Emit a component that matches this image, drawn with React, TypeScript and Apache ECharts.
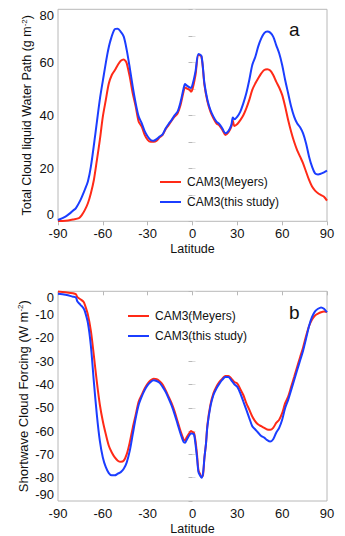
import React, { useEffect, useRef } from "react";
import * as echarts from "echarts";

// Panel a: Total cloud liquid water path (g m-2)
const latA_meyers = [-90,-85,-80,-76,-74,-72,-70,-68,-66,-64,-62,-60,-58,-56,-54,-52,-50,-48,-46,-45,-44,-42,-40,-38,-36,-34,-32,-30,-28,-26,-24,-22,-20,-18,-16,-14,-12,-10,-8,-6,-5,-4,-2,-1,0,2,4,6,8,10,12,14,16,18,20,22,24,26,27,28,30,32,34,36,38,40,42,44,46,48,50,52,54,56,58,60,62,64,66,68,70,72,74,76,78,80,82,84,86,88,90];
const lwpMeyers = [0.1,0.2,0.7,1.2,2.4,4.3,6.8,10.6,15.6,23,30.7,39.5,45.8,52,55.2,57,59,60.6,61.1,60.6,59.6,54.6,48.3,43.3,37.6,35.7,32.6,30.7,30,30,30.4,31.7,32.6,34.7,36.3,38,39.5,40.7,43.9,48.9,50.5,50.2,49.6,48.9,49.8,55.2,62.8,62.1,51.4,45.2,41.4,38.9,37,36.1,34.5,32.6,33.5,35.7,38,36,36.7,38.2,40,42.6,45.8,49.6,52,54,55.8,57.1,57.4,56.9,55.2,52.7,50.5,47.7,43.3,38.2,33.8,30,26.9,24.4,21.9,18.7,15.6,13.1,11.6,10.6,9.9,9.3,7.8];
const latA_study = [-90,-85,-82,-80,-78,-75,-72,-70,-68,-65,-62,-60,-57,-55,-52,-50,-48,-46,-44,-42,-40,-38,-36,-34,-32,-30,-28,-26,-24,-22,-20,-18,-16,-14,-12,-10,-8,-6,-5,-4,-2,-1,0,2,4,6,8,10,12,14,16,18,20,22,24,26,27,28,30,32,34,36,38,40,42,44,46,48,50,52,54,56,58,60,62,64,66,68,70,72,74,76,78,80,82,84,86,88,90];
const lwpStudy = [0.5,1.8,3,4,5,8,12,15,20.6,33,46,53,63,68,72.5,72.7,71.5,69.7,64.6,58,50.8,44.5,39.5,37,34,32,30.7,30.4,31,32,32.8,35,36.7,38.2,40,41.4,45,50,51.8,51.3,50.5,50.3,51.5,56.5,63.1,62.4,52,45.8,42,39.5,37.6,36.7,35,33.2,34,36.4,39.2,38.5,39.5,41.4,44.5,48.3,53.3,59,62,66,69,71,71.6,71.2,69.7,66.5,63.4,59,53.3,48.3,43.3,39.5,37,35.5,33.2,29.4,24.4,20.6,18.1,17.7,18,18.5,19.1];

// Panel b: Shortwave cloud forcing (W m-2)
const latB = [-90,-85,-80,-78,-77,-75,-73,-72,-70,-68,-66,-64,-62,-60,-58,-56,-54,-52,-50,-48,-46,-44,-42,-40,-38,-36,-34,-32,-30,-28,-26,-24,-22,-20,-18,-16,-14,-12,-10,-8,-6,-5,-4,-2,-1,0,1,2,3,4,5,6,7,8,9,10,12,14,16,18,20,22,24,26,28,30,32,34,36,38,40,42,44,46,48,50,52,54,56,58,60,62,64,66,68,70,72,74,76,78,80,82,84,86,88,90];
const swcfMeyers = [-0.1,-0.4,-0.8,-1.3,-2.5,-3.4,-4.4,-5.8,-10,-17,-27.6,-38.9,-48.7,-55.8,-61.4,-66.3,-69.2,-71.3,-72.7,-73.2,-72.7,-69.9,-64.9,-58.6,-53,-47.3,-44.5,-41.7,-39.6,-38.2,-37.5,-37.7,-38.6,-40,-42.4,-45.2,-48,-51.5,-55.8,-60,-63.5,-64,-62.8,-60.7,-60,-60.4,-60.7,-64.2,-69.9,-76.9,-78.3,-79.7,-79,-71.3,-65.6,-57.2,-48.7,-43.8,-41,-38.9,-37.5,-36.3,-36.3,-37.5,-38.9,-39.6,-42,-44.5,-48,-50.8,-53.7,-55.8,-57.2,-57.9,-58.6,-59.3,-59.4,-58.6,-56.5,-55.1,-52.3,-48,-45.2,-41,-36.8,-32.5,-28.3,-24.1,-19.2,-14.9,-12.1,-10.4,-9.6,-9,-8.7,-8.9];
const swcfStudy = [-1.1,-1.5,-2.3,-2.7,-4.4,-5.8,-7.2,-8.6,-13.5,-23.4,-38.9,-53,-64.2,-71.3,-75.5,-78,-79,-79,-78.3,-77.6,-76.2,-73.4,-68.5,-61.4,-54.4,-48.7,-45.2,-42.4,-40.3,-38.9,-38.2,-38.5,-39.3,-41,-43.1,-45.9,-49,-52.7,-56.9,-61.1,-64.6,-65,-63.9,-61.7,-61,-61.1,-61.4,-65.6,-71.3,-77.6,-79,-80,-78.3,-71.3,-65.6,-57.9,-49.4,-44.5,-41.7,-39.6,-37.9,-36.8,-36.8,-38.2,-39.9,-41,-43.8,-47.3,-50.8,-54.4,-57.9,-59.3,-60.7,-62.1,-62.8,-63.9,-64.5,-63.5,-60.7,-58.6,-55.1,-50.1,-46.6,-42.4,-38.2,-33.9,-29.7,-25.5,-20.3,-14.9,-11,-8.6,-7.5,-6.9,-7.5,-9];

const seriesNames = ["CAM3(Meyers)", "CAM3(this study)"];

const RED = "#ff2a17";
const BLUE = "#1b3dff";
const FRAME = "#b8b8b8";
const FONT = "Liberation Sans, Arial, sans-serif";

const zip = (xs: number[], ys: number[]) => xs.map((x, i) => [x, ys[i]]);

export default function App() {
  const ref = useRef<HTMLDivElement>(null);
  useEffect(() => {
    document.body.style.margin = "0";
    if (!ref.current) return;
    const chart = echarts.init(ref.current, null, { renderer: "svg" });

    const gridA = { left: 58, top: 9.3, width: 269, height: 212 };
    const gridB = { left: 58, top: 291.3, width: 269, height: 213 };

    const bottomX = (gi: number) => ({
      type: "value",
      gridIndex: gi,
      min: -90,
      max: 90,
      interval: 30,
      position: "bottom",
      name: "Latitude",
      nameLocation: "middle",
      nameGap: 21,
      nameMoveOverlap: false,
      nameTextStyle: { fontFamily: FONT, fontSize: 12.5, color: "#111" },
      axisLine: { show: false },
      axisTick: { show: false },
      splitLine: { show: false },
      axisLabel: { fontFamily: FONT, fontSize: 13, color: "#111", margin: 6 },
    });
    const topX = (gi: number) => ({
      type: "value",
      gridIndex: gi,
      min: -90,
      max: 90,
      interval: 30,
      position: "top",
      axisLine: { show: false },
      axisTick: { show: true, inside: true, length: 4, lineStyle: { color: FRAME } },
      splitLine: { show: false },
      axisLabel: { show: false },
    });
    const leftY = (gi: number, min: number, max: number, interval: number, name: string, gap: number, nameSize: number) => ({
      type: "value",
      gridIndex: gi,
      min,
      max,
      interval,
      position: "left",
      name,
      nameLocation: "middle",
      nameGap: gap,
      nameMoveOverlap: false,
      nameTextStyle: {
        fontFamily: FONT,
        fontSize: nameSize,
        color: "#111",
        rich: { sup: { fontFamily: FONT, fontSize: 8, color: "#111", verticalAlign: "top", padding: [0, 0, 6, 0] } },
      },
      axisLine: { show: false },
      axisTick: { show: true, inside: true, length: 3, lineStyle: { color: "#ddd" } },
      minorTick: { show: true, splitNumber: interval === 20 ? 2 : 1, length: 3, lineStyle: { color: "#ddd" } },
      splitLine: { show: false },
      axisLabel: {
        fontFamily: FONT,
        fontSize: 13,
        color: "#111",
        margin: 4,
        verticalAlignMinLabel: "bottom",
        verticalAlignMaxLabel: "top",
      },
    });
    const rightY = (gi: number, min: number, max: number) => ({
      type: "value",
      gridIndex: gi,
      min,
      max,
      interval: 10,
      position: "right",
      axisLine: { show: false },
      axisTick: { show: true, inside: true, length: 4, lineStyle: { color: FRAME } },
      splitLine: { show: false },
      axisLabel: { show: false },
    });

    const line = (name: string, color: string, data: number[][], xi: number, yi: number) => ({
      type: "line",
      name,
      xAxisIndex: xi,
      yAxisIndex: yi,
      data,
      showSymbol: false,
      symbol: "none",
      smooth: 0.3,
      lineStyle: { color, width: 2 },
      itemStyle: { color },
      clip: true,
    });

    const legendCommon = {
      orient: "vertical",
      icon: "rect",
      itemWidth: 21,
      itemHeight: 2,
      itemGap: 8,
      selectedMode: false,
      textStyle: { fontFamily: FONT, fontSize: 12, color: "#111", padding: [0, 0, 0, 1] },
      data: seriesNames,
    };

    chart.setOption({
      animation: false,
      backgroundColor: "#fff",
      grid: [
        { ...gridA, show: true, borderColor: FRAME, borderWidth: 1 },
        { ...gridB, show: true, borderColor: FRAME, borderWidth: 1 },
      ],
      xAxis: [bottomX(0), topX(0), bottomX(1), topX(1)],
      yAxis: [
        leftY(0, 0, 80, 20, "Total Cloud liquid Water Path (g m{sup|-2})", 24, 12.5),
        rightY(0, 0, 80),
        leftY(1, -90, 0, 10, "Shortwave Cloud Forcing (W m{sup|-2})", 28, 13),
        rightY(1, -90, 0),
      ],
      legend: [
        { ...legendCommon, left: 155, top: 171 },
        { ...legendCommon, left: 123, top: 305 },
      ],
      series: [
        line(seriesNames[0], RED, zip(latA_meyers, lwpMeyers), 0, 0),
        line(seriesNames[1], BLUE, zip(latA_study, lwpStudy), 0, 0),
        line(seriesNames[0], RED, zip(latB, swcfMeyers), 2, 2),
        line(seriesNames[1], BLUE, zip(latB, swcfStudy), 2, 2),
      ],
      graphic: [
        { type: "text", left: 289, top: 20, style: { text: "a", fontFamily: FONT, fontSize: 19, fill: "#111" } },
        { type: "text", left: 289, top: 303, style: { text: "b", fontFamily: FONT, fontSize: 19, fill: "#111" } },
      ],
    });
    return () => chart.dispose();
  }, []);
  return <div ref={ref} style={{ width: 345, height: 536 }} />;
}
